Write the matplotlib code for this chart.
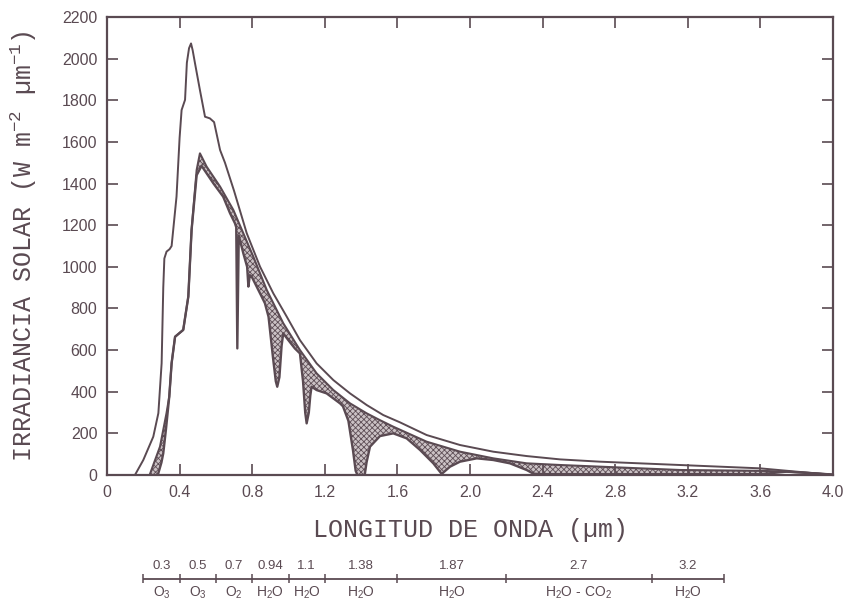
import numpy as np
import matplotlib
matplotlib.use("Agg")
import matplotlib.pyplot as plt

# colours of the scanned drawing
ink = "#5a4a52"
plt.rcParams['mathtext.default'] = 'regular'
plt.rcParams['hatch.linewidth'] = 0.6

# extraterrestrial irradiance (W m-2 um-1)
wl_top = [0.154, 0.20, 0.255, 0.283, 0.301, 0.310, 0.316, 0.328, 0.345, 0.356,
          0.383, 0.400, 0.411, 0.430, 0.440, 0.452, 0.463, 0.472, 0.485, 0.512,
          0.540, 0.567, 0.590, 0.623, 0.65, 0.70, 0.77, 0.843, 0.916, 0.99,
          1.063, 1.155, 1.247, 1.339, 1.431, 1.522, 1.614, 1.761, 1.945, 2.128,
          2.312, 2.496, 2.716, 3.157, 3.598, 3.80, 3.98]
irr_top = [0, 72, 184, 297, 537, 900, 1040, 1073, 1085, 1100,
           1337, 1620, 1753, 1802, 1980, 2050, 2073, 2040, 1977, 1849,
           1721, 1713, 1695, 1561, 1500, 1365, 1161, 1001, 873, 761,
           648, 536, 456, 392, 336, 288, 253, 192, 144, 112,
           91, 75, 64, 48, 32, 16, 2]

# sea level, scattering only (upper edge of the shaded absorption)
wl_sea = [0.235, 0.26, 0.292, 0.328, 0.343, 0.356, 0.375, 0.42, 0.448, 0.466,
          0.494, 0.512, 0.549, 0.623, 0.696, 0.751, 0.806, 0.88, 0.971, 1.063,
          1.155, 1.247, 1.339, 1.431, 1.50, 1.577, 1.761, 1.945, 2.128, 2.312,
          2.496, 2.716, 3.157, 3.60, 3.745, 3.90, 4.00]
irr_sea = [0, 60, 136, 297, 376, 537, 664, 697, 857, 1177,
           1465, 1545, 1481, 1385, 1273, 1161, 1049, 889, 729, 600,
           488, 408, 344, 296, 265, 232, 160, 112, 80, 56,
           48, 40, 24, 20, 16, 8, 2]

# sea level with gas absorption
wl_abs = [0.28, 0.30, 0.31, 0.325, 0.343, 0.356, 0.375, 0.42, 0.448, 0.466,
          0.494, 0.521, 0.586, 0.64, 0.678, 0.705, 0.712, 0.718, 0.726, 0.751,
          0.772, 0.779, 0.787, 0.797, 0.852, 0.87, 0.89, 0.915, 0.93, 0.938,
          0.95, 0.962, 0.971, 0.999, 1.035, 1.063, 1.08, 1.092, 1.10, 1.112,
          1.12, 1.127, 1.155, 1.21, 1.284, 1.30, 1.33, 1.355, 1.37, 1.38,
          1.42, 1.43, 1.449, 1.504, 1.577, 1.651, 1.725, 1.798, 1.844, 1.89,
          1.945, 2.037, 2.128, 2.22, 2.312, 2.35, 2.40, 3.60, 3.745, 3.90, 4.00]
irr_abs = [0, 60, 104, 220, 376, 537, 664, 697, 857, 1177,
           1440, 1485, 1401, 1337, 1257, 1209, 1190, 608, 1150, 1065,
           1000, 905, 960, 953, 857, 825, 760, 560, 450, 424,
           470, 620, 680, 648, 608, 584, 450, 300, 248, 300,
           380, 424, 408, 392, 344, 330, 260, 120, 20, 0,
           0, 60, 136, 187, 200, 176, 120, 56, 5, 40,
           64, 80, 72, 56, 24, 6, 4, 4, 16, 8, 2]

# absorption band strip under the axis
band_edges = [0.2, 0.4, 0.6, 0.8, 1.0, 1.2, 1.6, 2.2, 3.0, 3.4]
band_wl = ["0.3", "0.5", "0.7", "0.94", "1.1", "1.38", "1.87", "2.7", "3.2"]
band_gas = ["O$_3$", "O$_3$", "O$_2$", "H$_2$O", "H$_2$O", "H$_2$O", "H$_2$O",
            "H$_2$O - CO$_2$", "H$_2$O"]

x_ticks = [0, 0.4, 0.8, 1.2, 1.6, 2.0, 2.4, 2.8, 3.2, 3.6, 4.0]
x_ticklabels = ["0", "0.4", "0.8", "1.2", "1.6", "2.0", "2.4", "2.8", "3.2", "3.6", "4.0"]
y_ticks = list(range(0, 2201, 200))

fig = plt.figure(figsize=(8.47, 6.04), dpi=100)
ax = fig.add_axes([107 / 847, 129 / 604, 726 / 847, 458 / 604])

# shaded gas absorption: polygon between scattering-only curve and actual curve
poly_x = np.r_[wl_sea, wl_abs[::-1]]
poly_y = np.r_[irr_sea, irr_abs[::-1]]
ax.fill(poly_x, poly_y, facecolor="#cbc2c5", edgecolor="#5e4e56",
        hatch="xxxxxx", linewidth=0)

ax.plot(wl_top, irr_top, color=ink, lw=1.4)
ax.plot(wl_sea, irr_sea, color=ink, lw=1.5)
ax.plot(wl_abs, irr_abs, color=ink, lw=1.7)

ax.set_xlim(0, 4.0)
ax.set_ylim(0, 2200)
ax.set_xticks(x_ticks)
ax.set_xticklabels(x_ticklabels)
ax.set_yticks(y_ticks)
ax.tick_params(direction="in", length=8, width=1.2, color=ink, labelcolor=ink,
               top=True, right=True, labelsize=11.5, pad=7)
for lab in ax.get_xticklabels() + ax.get_yticklabels():
    lab.set_fontfamily("Liberation Sans")
for sp in ax.spines.values():
    sp.set_color(ink)
    sp.set_linewidth(1.6)

ax.set_xlabel("LONGITUD DE ONDA (µm)", fontfamily="Liberation Mono",
              fontsize=18, color=ink, labelpad=13)
ax.set_ylabel("IRRADIANCIA SOLAR (W m$^{-2}$ µm$^{-1}$)", fontfamily="Liberation Mono",
              fontsize=18, color=ink, labelpad=16)

# strip with the absorbing gases
ax2 = fig.add_axes([107 / 847, 2 / 604, 726 / 847, 47 / 604])
ax2.set_xlim(0, 4.0)
ax2.set_ylim(-1, 1)
ax2.axis("off")
ax2.hlines(0, band_edges[0], band_edges[-1], color=ink, lw=1.3)
ax2.vlines(band_edges, -0.2, 0.2, color=ink, lw=1.1)
for i in range(len(band_wl)):
    xc = (band_edges[i] + band_edges[i + 1]) / 2
    ax2.text(xc, 0.55, band_wl[i], ha="center", va="center", fontsize=9.5,
             color=ink, fontfamily="Liberation Sans")
    ax2.text(xc, -0.62, band_gas[i], ha="center", va="center", fontsize=10,
             color=ink, fontfamily="Liberation Sans")

fig.savefig("out.png", dpi=100, facecolor="white")
